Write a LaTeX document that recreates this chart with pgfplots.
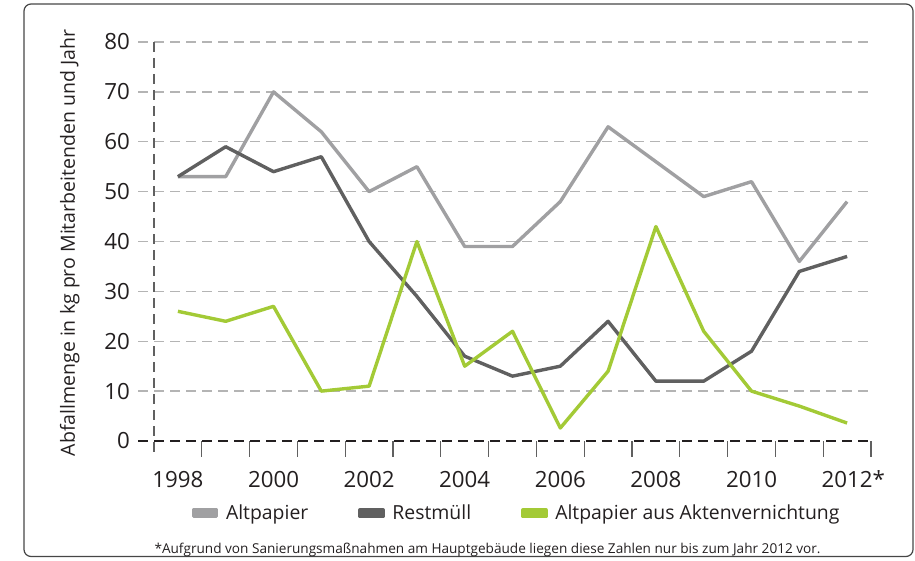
\documentclass[border=0pt]{standalone}
\usepackage{fontspec}
\setmainfont{Open Sans}
\usepackage{pgfplots}
\pgfplotsset{compat=1.18}
\definecolor{alt}{RGB}{160,160,162}
\definecolor{rest}{RGB}{96,96,96}
\definecolor{akten}{RGB}{163,202,54}
\definecolor{gridc}{RGB}{180,180,180}
\definecolor{txt}{RGB}{35,31,32}
\definecolor{framec}{RGB}{70,70,70}

\begin{document}
\begin{tikzpicture}[x=1pt,y=1pt]
\path[use as bounding box] (0,0) rectangle (915,560);
\draw[rounded corners=7pt, line width=1.2pt, color=framec] (24,3.5) rectangle (913,556);
\begin{axis}[
  at={(154pt,119pt)}, anchor=south west,
  width=717pt, height=399pt, scale only axis,
  xmin=-0.5, xmax=14.5, ymin=0, ymax=80,
  clip=false,
  axis line style={draw=none},
  major tick length=0pt,
  xtick={0,2,...,14},
  xticklabels={1998,2000,2002,2004,2006,2008,2010,2012\rlap{*}},
  ytick={0,10,...,80},
  /pgf/number format/assume math mode=true,
  ticklabel style={font=\fontsize{22.3}{26}\selectfont, inner sep=0pt, text=txt},
  xticklabel style={anchor=base, yshift=-46pt},
  yticklabel style={anchor=east, xshift=-24pt},
  ylabel={Abfallmenge in kg pro Mitarbeitenden und Jahr},
  ylabel style={at={(axis description cs:-0.1102,0.496)}, anchor=base, font=\fontsize{19.5}{22}\selectfont, inner sep=0pt, text=txt},
  legend columns=3,
  legend style={at={(axis description cs:0.0526,-0.181)}, anchor=west, draw=none, fill=none, inner sep=0pt,
    font=\fontsize{19.4}{22}\selectfont, text=txt, nodes={inner sep=0pt},
    /tikz/every odd column/.append style={column sep=7.7pt},
    /tikz/every even column/.append style={column sep=50pt}},
  legend image code/.code={\fill[#1] (0pt,-3.4pt) rectangle (23pt,3.4pt);},
]
% grid lines
\pgfplotsinvokeforeach{10,20,...,80}{
  \draw[gridc, line width=1.3pt, dash pattern=on 10pt off 6pt] ([xshift=-16pt]axis cs:-0.5,#1) -- (axis cs:14.5,#1);
}
% x tick marks
\pgfplotsinvokeforeach{0.5,1.5,...,14.5}{
  \draw[rest, line width=1.3pt] (axis cs:#1,0) -- ([yshift=-16pt]axis cs:#1,0);
}
% y axis
\draw[rest, line width=1.4pt, dash pattern=on 10pt off 6pt] (axis cs:-0.5,80) -- ([yshift=-16pt]axis cs:-0.5,0);
% x axis
\draw[txt, line width=1.3pt, dash pattern=on 10pt off 6pt] ([xshift=-16pt]axis cs:-0.5,0) -- (axis cs:14.5,0);

\addplot[alt, line width=3.4pt, line join=round] coordinates {
(0,53) (1,53) (2,70) (3,62) (4,50) (5,55) (6,39) (7,39) (8,48) (9,63) (10,56) (11,49) (12,52) (13,36) (14,48)};
\addlegendentry{Altpapier}
\addplot[rest, line width=3.4pt, line join=round] coordinates {
(0,53) (1,59) (2,54) (3,57) (4,40) (5,29) (6,17) (7,13) (8,15) (9,24) (10,12) (11,12) (12,18) (13,34) (14,37)};
\addlegendentry{Restmüll\hspace{13pt}}
\addplot[akten, line width=3.4pt, line join=round] coordinates {
(0,26) (1,24) (2,27) (3,10) (4,11) (5,40) (6,15) (7,22) (8,2.6) (9,14) (10,43) (11,22) (12,10) (13,7) (14,3.6)};
\addlegendentry{Altpapier aus Aktenvernichtung}
\end{axis}
\node[anchor=base, font=\fontsize{13.6}{16}\selectfont, inner sep=0pt, text=txt] at (487.5,6.3) {*Aufgrund von Sanierungsmaßnahmen am Hauptgebäude liegen diese Zahlen nur bis zum Jahr 2012 vor.};
\end{tikzpicture}
\end{document}
